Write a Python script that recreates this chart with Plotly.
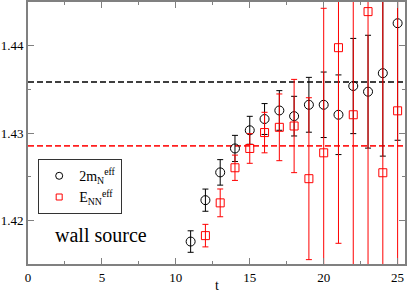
import plotly.graph_objects as go

# 2 m_N^eff (black circles)
t_n = [11, 12, 13, 14, 15, 16, 17, 18, 19, 20, 21, 22, 23, 24, 25]
m_n = [1.41757, 1.42231, 1.42549, 1.42823, 1.43031, 1.43160, 1.43258, 1.43193,
       1.43323, 1.43323, 1.43209, 1.43538, 1.43473, 1.43685, 1.44257]
m_n_err = [0.00123, 0.00127, 0.00146, 0.00150, 0.00160, 0.00177, 0.00227, 0.00227,
           0.00314, 0.00375, 0.00456, 0.00545, 0.00646, 0.00950, 0.01340]

# E_NN^eff (red squares)
t_nn = [12, 13, 14, 15, 16, 17, 18, 19, 20, 21, 22, 23, 24, 25]
e_nn = [1.41825, 1.42200, 1.42602, 1.42823, 1.43005, 1.43065, 1.43080, 1.42477,
        1.42773, 1.43977, 1.43209, 1.44390, 1.42545, 1.43254]
e_nn_err = [0.00129, 0.00159, 0.00145, 0.00170, 0.00232, 0.00382, 0.00534, 0.00927,
            0.01655, 0.02240, 0.02000, 0.03000, 0.03000, 0.03000]

fit_n = 1.43583
fit_nn = 1.42852

x_range = [0, 25.5]
y_range = [1.415, 1.445]
x_ticks = [0, 5, 10, 15, 20, 25]
y_ticks = [1.42, 1.43, 1.44]
y_ticklabels = ["1.42", "1.43", "1.44"]

FONT = "Liberation Serif"

fig = go.Figure()

fig.add_trace(go.Scatter(
    x=x_range, y=[fit_nn, fit_nn], mode="lines",
    line=dict(color="#ff2020", width=1.8, dash="6px,3px"),
    showlegend=False, hoverinfo="skip"))
fig.add_trace(go.Scatter(
    x=x_range, y=[fit_n, fit_n], mode="lines",
    line=dict(color="black", width=1.5, dash="6px,3px"),
    showlegend=False, hoverinfo="skip"))

fig.add_trace(go.Scatter(
    x=t_n, y=m_n, mode="markers", showlegend=False,
    marker=dict(symbol="circle-open", size=9, color="black", line=dict(width=1)),
    error_y=dict(type="data", array=m_n_err, color="black", thickness=1, width=3)))

fig.add_trace(go.Scatter(
    x=t_nn, y=e_nn, mode="markers", showlegend=False,
    marker=dict(symbol="square-open", size=8, color="#ff0000", line=dict(width=1)),
    error_y=dict(type="data", array=e_nn_err, color="#ff0000", thickness=1, width=3)))

# legend entries (smaller symbols, as in the reference legend)
fig.add_trace(go.Scatter(
    x=[None], y=[None], mode="markers", name="2m<sub>N</sub><sup>eff</sup>",
    marker=dict(symbol="circle-open", size=7, color="black", line=dict(width=1))))
fig.add_trace(go.Scatter(
    x=[None], y=[None], mode="markers", name="E<sub>NN</sub><sup>eff</sup>",
    marker=dict(symbol="square-open", size=6, color="#ff0000", line=dict(width=1))))

fig.add_annotation(x=4.97, y=1.41832, xref="x", yref="y", text="wall source",
                   showarrow=False, font=dict(family=FONT, size=20, color="black"))
fig.add_annotation(x=0.5, y=-0.082, xref="paper", yref="paper", text="t",
                   showarrow=False, yanchor="middle",
                   font=dict(family=FONT, size=14, color="black"))

axis_common = dict(showline=True, linecolor="#808080", linewidth=2, mirror="allticks",
                   ticks="inside", tickcolor="#808080", ticklen=6, tickwidth=1,
                   showgrid=False, zeroline=False, automargin=False,
                   tickfont=dict(family=FONT, size=13, color="black"))

fig.update_xaxes(range=x_range, tickvals=x_ticks,
                 minor=dict(dtick=2.5, tick0=0, ticks="inside", ticklen=3, tickcolor="#808080"),
                 **axis_common)
fig.update_yaxes(range=y_range, tickvals=y_ticks, ticktext=y_ticklabels,
                 minor=dict(dtick=0.005, tick0=1.415, ticks="inside", ticklen=3, tickcolor="#808080"),
                 **axis_common)

fig.update_layout(
    width=407, height=292,
    margin=dict(l=28, r=2, t=2, b=28),
    plot_bgcolor="white", paper_bgcolor="white",
    font=dict(family=FONT, size=13, color="black"),
    legend=dict(x=0.027, y=0.40, xanchor="left", yanchor="top",
                bordercolor="#333", borderwidth=1, bgcolor="white",
                font=dict(family=FONT, size=14),
                tracegroupgap=0, itemwidth=30),
)

fig.write_html("out.html", config={"displayModeBar": False},
               post_script="document.body.style.margin='0';document.body.style.overflow='hidden';")
